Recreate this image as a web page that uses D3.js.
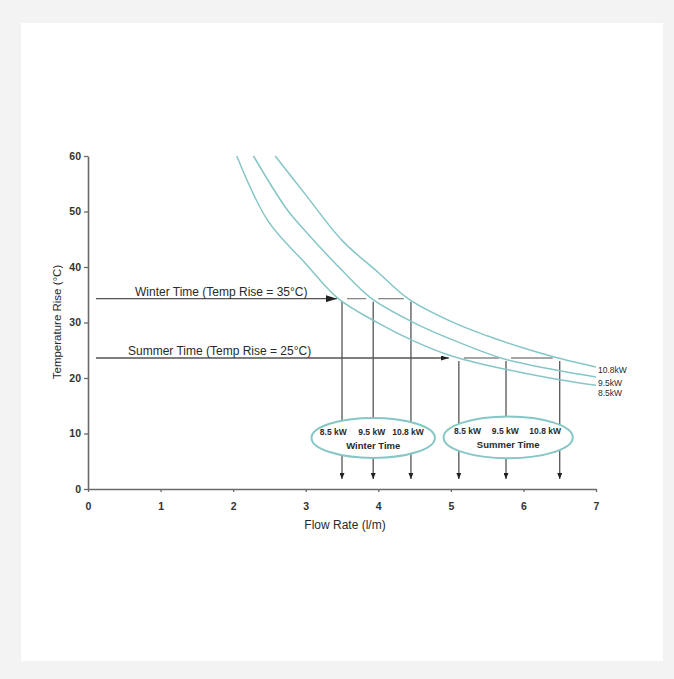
<!DOCTYPE html>
<html><head><meta charset="utf-8">
<script src="https://cdn.jsdelivr.net/npm/d3@7"></script>
<style>
body{margin:0;background:#f3f3f3;}
svg{display:block;font-family:"Liberation Sans",Arial,Helvetica,sans-serif;}
</style></head>
<body><svg id="c" width="674" height="679"></svg>
<script>
// ---- data ----
const xTicks = [0,1,2,3,4,5,6,7];
const yTicks = [0,10,20,30,40,50,60];
const powerLabels = ["8.5kW","9.5kW","10.8kW"];
const flow85  = [2.05,2.48,3.0,3.45,4.0,4.5,5.0,5.5,6.0,6.5,7.0];
const temp85  = [60,48.3,40.6,34.3,29.9,26.6,24.0,22.3,20.9,19.7,18.7];
const flow95  = [2.28,2.74,3.0,3.5,3.91,4.5,5.0,5.69,6.0,6.5,7.0];
const temp95  = [60,50.4,46.4,39.4,34.3,29.9,27.0,23.6,22.6,21.3,20.2];
const flow108 = [2.58,3.0,3.5,4.0,4.41,5.0,5.5,6.0,6.45,7.0];
const temp108 = [60,53.0,44.8,39.0,34.3,30.2,27.6,25.4,23.7,22.0];
const seasonNames  = ["Winter Time","Summer Time"];
const seasonLabels = ["Winter Time (Temp Rise = 35°C)","Summer Time (Temp Rise = 25°C)"];
const seasonTemp   = [34.3, 23.6];
const winterFlow   = [3.50, 3.93, 4.45];
const summerFlow   = [5.11, 5.76, 6.50];
const kwLabels     = ["8.5 kW","9.5 kW","10.8 kW"];
const winterKwFlow = [3.38, 3.91, 4.41];
const summerKwFlow = [5.23, 5.75, 6.30];
const ellipseCenter = [[3.93, 9.2],[5.79, 9.3]];
const ellipseRadius = [[0.85, 3.6],[0.89, 3.75]];

// ---- layout ----
const svg = d3.select("#c");
svg.append("rect").attr("x",21).attr("y",23).attr("width",642).attr("height",638).attr("fill","#fff");
const x = d3.scaleLinear().domain([0,7]).range([88,596]);
const y = d3.scaleLinear().domain([0,60]).range([489,156]);
const axisCol = "#6a6a6a", lineCol = "#555", curveCol = "#86c6c6", textCol = "#2a2a2a";

const defs = svg.append("defs");
function marker(id, w, h){
  defs.append("marker").attr("id",id).attr("viewBox",`0 0 ${w} ${h}`)
    .attr("refX",w).attr("refY",h/2).attr("markerWidth",w).attr("markerHeight",h)
    .attr("markerUnits","userSpaceOnUse").attr("orient","auto")
    .append("path").attr("d",`M0,0L${w},${h/2}L0,${h}Z`).attr("fill","#222");
}
marker("bigArrow",11,7);
marker("midArrow",8,5);
marker("smallArrow",6,5);

// axes
const gy = svg.append("g").attr("transform",`translate(${x(0)},0)`)
  .call(d3.axisLeft(y).tickValues(yTicks).tickFormat(d3.format("d")).tickSize(4).tickPadding(3).tickSizeOuter(0));
const gx = svg.append("g").attr("transform",`translate(0,${y(0)})`)
  .call(d3.axisBottom(x).tickValues(xTicks).tickFormat(d3.format("d")).tickSize(3).tickPadding(11).tickSizeOuter(0));
[gx,gy].forEach(g=>{
  g.select(".domain").attr("stroke",axisCol).attr("stroke-width",1.6);
  g.selectAll(".tick line").attr("stroke",axisCol).attr("stroke-width",1.3);
  g.selectAll(".tick text").attr("fill","#333").attr("font-size",10.5).attr("font-weight","bold")
    .attr("font-family","'Liberation Sans',Arial,sans-serif");
});
svg.append("text").attr("x",345).attr("y",529).attr("text-anchor","middle")
  .attr("font-size",12).attr("fill",textCol).text("Flow Rate (l/m)");
svg.append("text").attr("transform","translate(61,322) rotate(-90)").attr("text-anchor","middle")
  .attr("font-size",11.5).attr("fill",textCol).text("Temperature Rise (°C)");

// vertical drop lines (drawn before ellipses so ellipses hide them)
const seasonFlows = [winterFlow, summerFlow];
seasonFlows.forEach((fl,si)=>{
  fl.forEach(f=>{
    svg.append("line").attr("x1",x(f)).attr("x2",x(f))
      .attr("y1",y(seasonTemp[si])+3).attr("y2",y(1.8))
      .attr("stroke",lineCol).attr("stroke-width",1.3).attr("marker-end","url(#smallArrow)");
  });
  for(let i=0;i<fl.length-1;i++){
    svg.append("line").attr("x1",x(fl[i])+5).attr("x2",x(fl[i+1])-7)
      .attr("y1",y(seasonTemp[si])).attr("y2",y(seasonTemp[si]))
      .attr("stroke","#888").attr("stroke-width",1.3);
  }
});

// horizontal arrows
const arrowEnd = [x(winterFlow[0])-5, x(summerFlow[0])-10];
seasonTemp.forEach((t,si)=>{
  svg.append("line").attr("x1",x(0.11)).attr("x2",arrowEnd[si])
    .attr("y1",y(t)).attr("y2",y(t)).attr("stroke",lineCol).attr("stroke-width",1.3)
    .attr("marker-end", si===0 ? "url(#bigArrow)" : "url(#midArrow)");
  svg.append("text").attr("x", si===0 ? 135 : 128).attr("y",y(t)-3)
    .attr("font-size",12).attr("fill",textCol).text(seasonLabels[si]);
});

// curves
const curves = [[flow85,temp85],[flow95,temp95],[flow108,temp108]];
const labelShift = [8, 6, 3];
const line = d3.line().x(d=>x(d[0])).y(d=>y(d[1])).curve(d3.curveCatmullRom.alpha(0.5));
curves.forEach(([fs,ts],i)=>{
  const pts = fs.map((f,j)=>[f,ts[j]]);
  svg.append("path").attr("d",line(pts)).attr("fill","none")
    .attr("stroke",curveCol).attr("stroke-width",1.5);
  const last = pts[pts.length-1];
  svg.append("text").attr("x",x(last[0])+2).attr("y",y(last[1])+labelShift[i]+3.2)
    .attr("font-size",8.5).attr("fill",textCol).text(powerLabels[i]);
});

// ellipses
const kwFlows = [winterKwFlow, summerKwFlow];
ellipseCenter.forEach((c,i)=>{
  const cx = x(c[0]), cy = y(c[1]);
  svg.append("ellipse").attr("cx",cx).attr("cy",cy)
    .attr("rx", x(ellipseRadius[i][0]) - x(0)).attr("ry", y(0) - y(ellipseRadius[i][1]))
    .attr("fill","#fff").attr("stroke",curveCol).attr("stroke-width",2);
  kwFlows[i].forEach((f,j)=>{
    svg.append("text").attr("x",x(f)).attr("y",cy-3).attr("text-anchor","middle")
      .attr("font-size",8.5).attr("font-weight","bold").attr("fill",textCol).text(kwLabels[j]);
  });
  svg.append("text").attr("x",cx).attr("y",cy+11).attr("text-anchor","middle")
    .attr("font-size",9.5).attr("font-weight","bold").attr("fill",textCol).text(seasonNames[i]);
});
</script></body></html>
